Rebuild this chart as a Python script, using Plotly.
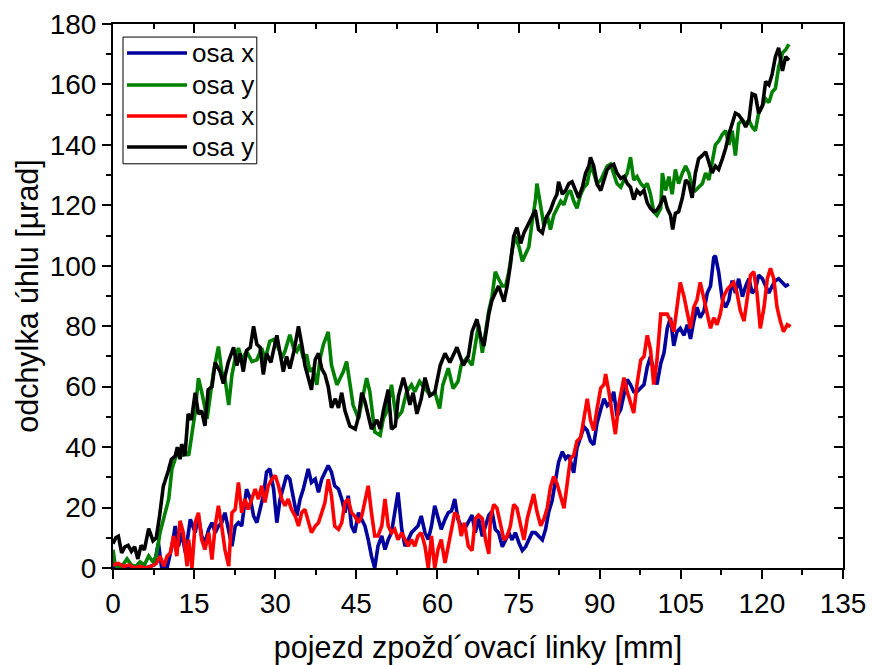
import plotly.graph_objects as go

# (pojezd [mm], odchylka [µrad]) pairs for each measured series
osa_x_a = [(0,0),(1,0.5),(2,0),(3,0.5),(4,0),(5,0.5),(6,0),(7,0.5),(7.6,1),(8.4,8.3),(9,0),(10,0),(10.9,7.2),(11.5,13.9),(12.1,7.2),(12.7,11.7),(13.4,5),(14.3,16.1),(15.2,11.7),(15.8,17.2),(16.4,10.6),(17,8.3),(17.7,12.8),(18.3,15),(18.9,11.7),(19.5,13.9),(20.1,15),(20.7,18.3),(21.4,11.7),(22,7.2),(22.6,13.9),(23.2,15),(23.8,13.9),(24.7,26.1),(25.4,22.8),(26,17.2),(26.6,15),(27.2,19.4),(27.8,23.9),(28.4,31.7),(29,32.8),(29.7,26.1),(30.3,15),(30.9,22.8),(31.5,27.2),(32.1,30.6),(32.7,29.4),(33.4,22.8),(34,17.2),(34.6,22.8),(35.2,26.1),(36.1,32.8),(36.7,28.3),(37.4,29.4),(38,25),(38.6,29.4),(39.2,31.7),(39.8,33.9),(40.4,31.7),(41,27.2),(41.7,26.1),(42.3,22.8),(42.9,18.3),(43.5,23.9),(44.1,13.9),(44.7,11.7),(45.4,18.3),(46,16.1),(46.6,13.9),(47.2,9.4),(47.8,3.9),(48.4,0),(49,7.2),(49.7,10.6),(50.3,6.1),(50.9,9.4),(51.5,11.7),(52.1,18.3),(52.7,25),(53.4,12.8),(54,7.2),(54.6,9.4),(55.2,11.7),(55.8,12.8),(56.4,13.9),(57,17.2),(57.7,11.7),(58.3,9.4),(58.9,13.9),(59.5,20.6),(60.1,16.1),(60.7,12.8),(61.4,16.1),(62,18.3),(62.6,18.9),(63.2,22.8),(63.8,16.1),(64.4,13.9),(65,12.8),(65.7,15),
           (66.4,17.5),(67,11.7),(67.6,16.3),(68.3,10.5),(68.9,14),(69.5,17.5),(70.1,18.7),(70.7,12.8),(71.3,11.7),(72,7),(72.6,9.3),(73.2,11.7),(73.8,9.3),(74.4,11.7),(75.1,8.2),(75.7,5.8),(76.3,7),(76.9,9.3),(77.5,11.7),(78.1,11.7),(78.7,10.5),(79.4,9.3),(80,12.8),(80.6,18.7),(81.2,22.2),(81.8,29.2),(82.4,35),(83.1,38.5),(83.7,36.2),(84.3,37.3),(84.9,33.8),(85.2,31.5),(85.8,39.7),(86.5,43.2),(87.1,46.7),(87.7,45.5),(88.3,42),(88.9,40.8),(89.5,47.8),(90.2,52.5),(90.8,56),(91.4,53.7),(92,54.8),(92.6,58.3),(93.2,50.2),(93.9,52.5),(94.5,57.2),(95.1,62.4),(95.7,60.7),(96.3,58.3),(96.9,58.3),(97.6,59.5),(98.2,60.7),(98.8,66.5),(99.4,70),(100,65.3),(100.6,60.7),(101.3,67.7),(101.9,71.2),(102.5,79.3),(103.1,82.8),(103.7,73.5),(104.3,78.2),(104.9,79.3),(105.6,77),(106.2,80.5),(106.8,75.8),(107.4,81.7),(108,86.3),(108.6,82.8),(109.3,85.2),(109.9,91),(110.5,93.3),(111.1,102.7),(111.4,103.3),(112,98),(112.7,88.7),(113.3,86.3),(113.9,88.7),(114.5,95.1),(115.1,91),(115.7,95.7),(116.4,89.8),(117,93.3),(117.6,95.7),(118.2,91),(118.8,92.2),(119.4,96.9),(120.1,95.7),(120.7,93.3),(121.3,91),(121.9,93.3),(122.5,95.1),(123.1,95.7),(123.8,94.5),(124.4,93.3),(125,93.9)]

osa_y_a = [(0,6),(0.4,1),(1,0),(1.8,1),(2.6,3),(3.4,1),(4.2,0.5),(5,2),(5.8,1),(6.6,4),(7.4,2),(8,4),(8.7,11.7),(9.7,19.4),(10.3,22.8),(10.9,32.8),(11.5,36.1),(12.1,39.4),(12.7,37.2),(13.4,38.3),(14,37.2),(14.6,45),(15.2,51.7),(15.8,62.8),(16.4,58.3),(17.4,49.4),(18,58.3),(18.6,65),(19.5,73.3),(20.1,65),(20.7,62.8),(21.4,53.9),(22,63.9),(22.6,69.4),(23.2,72.8),(23.8,68.9),(24.7,71.7),(25.7,68.3),(26.6,68.9),(27.5,72.8),(28.1,68.9),(29,75),(29.7,75.6),(30.6,72.8),(31.2,69.4),(31.8,71.7),(32.7,77.2),(33.4,72.8),(34,71.7),(34.6,73.9),(35.2,69.4),(35.8,70.6),(36.4,65),(37,66.1),(37.7,60.6),(38.3,69.4),(38.9,73.9),(39.8,78.1),(40.4,67.2),(41.4,60.6),(42,62.8),(42.6,65),(43.2,68.3),(43.8,60.6),(44.4,53.9),(45.4,49.4),(46.3,58.3),(46.9,62.8),(47.5,58.3),(48.4,45),(49.4,43.9),(50,49.4),(50.6,51.7),(51.5,60.6),(52.4,49.4),(53.4,51.7),(54.3,58.3),(55.2,60.6),(55.8,58.3),(56.7,61.7),(57.7,59.4),(58.6,57.2),(59.5,58.3),(60.4,52.8),(61,60.6),(62,66.1),(62.9,59.4),(63.8,61.7),(64.4,67.2),(65.4,69.4),
           (66.4,67.1),(67,73.5),(67.6,80.5),(68.3,71.2),(68.9,78.2),(69.5,85.2),(70.1,89.8),(70.7,98),(71.3,95.7),(72,93.3),(72.6,93.3),(73.2,98),(73.8,105),(74.4,109.7),(75.1,106.2),(75.7,101.5),(76.3,103.9),(76.9,106.2),(77.5,114.4),(78.1,121.4),(78.4,127.2),(79.1,119),(79.7,113.2),(80.3,116.7),(80.9,112),(81.5,116.7),(82.1,119),(82.8,121.4),(83.4,120.2),(84,123.7),(84.6,124.9),(85.2,121.4),(85.8,119),(86.5,123.7),(87.1,126),(87.7,127.2),(88.3,133),(88.9,130.7),(89.5,127.2),(90.2,128.4),(90.8,130.7),(91.4,133),(92,133.6),(92.6,130.7),(93.2,127.2),(93.9,126),(94.5,128.4),(95.1,130.7),(95.7,135.9),(96.3,128.4),(96.9,129.5),(97.6,127.2),(98.2,126),(98.8,127.2),(99.4,123.7),(100,117.9),(100.6,116.7),(101.3,119),(101.6,130.7),(102.2,124.9),(102.8,129.5),(103.4,123.7),(104,131.9),(104.6,127.2),(105.3,130.7),(105.9,133),(106.5,130.7),(107.1,126),(107.7,124.9),(108.3,126),(109,127.2),(109.6,130.7),(110.2,128.4),(110.8,134.2),(111.4,140),(112,141.2),(112.7,143.5),(113.3,144.7),(113.9,140),(114.5,144.7),(115.1,136.5),(115.7,147),(116.4,148.2),(117,147),(117.6,148.2),(118.2,145.9),(118.8,144.7),(119.4,150.5),(120.1,152.9),(120.7,155.2),(121.3,154),(121.9,157.5),(122.5,158.7),(123.1,165.7),(123.8,170.4),(124.4,171.5),(125,173.3)]

osa_x_b = [(0,1),(1,1.5),(2,0.5),(3,1),(4,0),(5,0.5),(6,0),(7,0.5),(8,1.5),(8.7,3.9),(9.4,0.6),(10,3.9),(10.6,5),(11.2,10.6),(11.8,3.9),(12.4,15.6),(13,11.7),(13.7,0.6),(14,9.4),(14.6,0),(15.2,15),(15.8,18.3),(16.4,9.4),(17,6.1),(17.7,11.7),(18.3,2.8),(18.9,13.9),(19.5,20.6),(20.1,13.9),(20.7,6.1),(21.4,0.6),(22,18.3),(22.6,19.4),(23.2,28.3),(23.8,18.3),(24.4,22.8),(25,19.4),(25.7,22.8),(26.3,26.1),(26.9,22.8),(27.5,27.2),(28.1,21.7),(28.7,27.2),(29.4,29.4),(30,30.6),(30.6,27.2),(31.2,22.8),(31.8,20.6),(32.4,22.8),(33,19.4),(33.7,17.2),(34.3,13.9),(34.9,18.3),(35.5,19.4),(36.1,15),(36.7,11.7),(37.4,13.9),(38,15),(38.6,18.3),(39.2,21.7),(39.8,29.4),(40.4,23.9),(41,13.9),(41.7,12.8),(42.3,15),(42.9,21.7),(43.5,22.8),(44.1,18.3),(44.7,17.2),(45.4,15),(46,17.2),(46.6,21.7),(47.2,27.2),(47.8,18.3),(48.4,10.6),(49,10.6),(49.7,13.9),(50.3,22.8),(50.9,13.9),(51.5,11.7),(52.1,12.8),(52.7,9.4),(53.4,11.7),(54,9.4),(54.6,7.2),(55.2,9.4),(55.8,7.2),(56.4,10.6),(57,11.7),(57.7,7.2),(58.3,0),(58.9,10.6),(59.5,0),(60.1,6.1),(60.7,9.4),(61.4,1.7),(62,7.2),(62.6,12.8),(63.2,18.3),(63.8,17.2),(64.4,10.6),(65,15),(65.7,7.2),
           (66.4,5.8),(67,16.3),(67.6,17.5),(68.3,16.3),(68.9,9.3),(69.5,4.7),(69.8,16.3),(70.4,21),(71,19.8),(71.7,14),(72.3,9.3),(72.9,10.5),(73.5,14),(74.1,21),(74.7,19.8),(75.4,14),(76,9.3),(76.6,16.3),(77.2,21),(77.8,24.5),(78.4,18.7),(79.1,14),(79.7,16.3),(80.3,19.8),(80.9,26.8),(81.5,30.3),(82.1,28),(82.8,23.3),(83.4,19.8),(84,28),(84.6,36.2),(85.2,37.3),(85.8,42),(86.5,43.2),(87.1,50.2),(87.7,56),(88.3,49),(88.9,45.5),(89.5,52.5),(90.2,59.5),(90.8,60.7),(91.1,64.2),(91.7,58.3),(92.3,50.2),(92.9,44.3),(93.5,53.7),(94.2,60.7),(94.5,63),(95.1,58.3),(95.7,54.8),(96.3,51.3),(96.9,60.7),(97.6,68.8),(98.2,70),(98.8,77),(99.4,72.3),(100,60.7),(100.6,68.8),(101.3,84),(101.9,84),(102.5,84),(103.1,81.7),(103.7,78.2),(104.3,86.3),(104.9,94.5),(105.6,89.8),(106.2,84),(106.8,79.3),(107.4,86.3),(108,88.7),(108.6,94.5),(109.3,88.7),(109.9,84),(110.5,79.3),(111.1,82.8),(111.7,80.5),(112.3,84),(112.9,89.8),(113.6,92.2),(114.2,93.3),(114.8,94.5),(115.4,91),(116,85.2),(116.7,81.7),(117.3,89.1),(117.9,96.9),(118.5,98),(119.1,91),(119.7,79.3),(120.4,86.3),(121,95.7),(121.6,99.2),(122.2,95.7),(122.8,86.3),(123.4,81.7),(124,78.2),(124.7,80.5),(125.3,79.9)]

osa_y_b = [(0,8),(0.5,10),(1,10.5),(1.6,5),(2.2,7),(2.8,7.5),(3.4,5.5),(4,7),(4.6,3),(5.2,7.5),(5.8,6),(6.6,13),(7.4,9),(8,10),(8.6,17),(9.3,27),(10.2,32),(10.8,36),(11.5,37),(11.9,40),(12.4,36),(12.7,41),(13.3,37),(13.9,51),(14.5,49),(15.2,58),(15.8,51),(16.4,52),(17,47),(17.6,59),(18.3,60),(18.9,68),(19.8,65),(20.4,61),(21.3,68),(22.3,73),(22.9,67),(23.5,71),(24.1,65),(24.7,72),(25.4,73),(26,80),(26.6,74),(27.2,73),(27.8,64),(28.4,71),(29.2,68),(30.3,77),(31,70),(31.5,65),(32.1,70),(32.7,66),(33.5,72),(34.3,80),(35,73),(35.5,67),(36.1,63),(36.7,59),(37.4,69),(38,71),(38.6,66),(39.2,64),(39.8,60),(40.4,53),(41.1,56),(41.7,53),(42.3,58),(42.9,52),(43.8,47),(44.8,46),(45.4,50),(46,58),(46.6,55),(47.2,51),(47.8,46),(48.8,49),(49.4,46),(50,52),(50.9,59),(51.5,46),(52.2,47),(52.8,57),(53.7,63),(54.3,59),(54.9,54),(55.5,58),(56.2,51),(57,56),(57.7,63),(58.6,57),(59.5,58),(60.5,67),(61.4,71),(62.3,68),(63,71),(63.6,73),(64.2,70),(64.8,67),(65.7,70),
           (66.4,78.2),(67.3,82.3),(68,76.4),(68.6,73.5),(69.5,84),(70.1,88.7),(70.7,91),(71.3,93.3),(72.3,88.1),(72.9,93.3),(73.5,100.4),(74.1,109.7),(74.7,112.6),(75.4,107.4),(76,110.9),(76.9,114.4),(77.5,116.7),(78.1,118.4),(78.7,112),(79.4,110.9),(80,115.5),(80.9,118.4),(81.5,121.4),(82.1,123.7),(82.4,127.8),(83.1,123.7),(83.7,124.9),(84.3,127.2),(84.9,127.8),(85.5,124.9),(86.1,122.5),(86.8,126),(87.4,130.7),(88,133),(88.3,135.9),(88.9,133),(89.5,127.2),(90.2,124.9),(90.8,128.9),(91.4,131.9),(92,133),(92.6,133.6),(93.2,130.7),(93.9,128.9),(94.5,129.5),(95.1,127.2),(95.7,126),(96.3,121.9),(96.9,124.9),(97.5,123.7),(98.2,124.9),(98.8,120.8),(99.4,119),(100,117.9),(100.6,118.4),(101.2,120.2),(101.9,123.1),(102.5,119),(103.1,116.7),(103.5,112),(104,117.3),(104.6,117.9),(105.3,122.5),(105.9,128.4),(106.5,127.2),(107.1,122.5),(107.7,130.7),(108.3,135.4),(109,136.5),(109.6,137.7),(110.2,134.2),(110.8,130.7),(111.4,133),(112,131.9),(112.7,135.4),(113.3,138.9),(113.9,143.5),(114.5,147),(115.1,150.5),(115.7,149.9),(116.4,148.2),(117,145.9),(117.6,148.2),(118.2,156.9),(118.8,156.4),(119.4,150.5),(120.1,152.9),(120.7,161),(121.3,159.9),(121.9,163.4),(122.5,169.2),(123.1,172.1),(123.8,164.5),(124.4,169.2),(125,168)]

series_names = ["osa x", "osa y", "osa x", "osa y"]
series_data = [osa_x_a, osa_y_a, osa_x_b, osa_y_b]
series_colors = ["#00009C", "#008000", "#FF0000", "#000000"]

x_ticks = [0, 15, 30, 45, 60, 75, 90, 105, 120, 135]
y_ticks = [0, 20, 40, 60, 80, 100, 120, 140, 160, 180]

FONT = "Liberation Sans, Arial, sans-serif"

fig = go.Figure()
for name, data, color in zip(series_names, series_data, series_colors):
    xs = [p[0] for p in data]
    ys = [p[1] for p in data]
    fig.add_trace(go.Scatter(x=xs, y=ys, mode="lines", name=name,
                             line=dict(color=color, width=3.6),
                             showlegend=False))

# carrier trace for the mirrored top/right frame axes
fig.add_trace(go.Scatter(x=[None], y=[None], xaxis="x2", yaxis="y2",
                         showlegend=False, hoverinfo="skip"))

tick_font = dict(family=FONT, size=28, color="black")
common = dict(showline=True, linewidth=2, linecolor="black", showgrid=False,
              zeroline=False, tickwidth=2, tickcolor="black", ticklen=9,
              automargin=False)

fig.update_layout(
    width=872, height=665,
    margin=dict(l=113, r=29, t=24, b=97),
    paper_bgcolor="white", plot_bgcolor="white",
    font=dict(family=FONT, color="black"),
    xaxis=dict(range=[0, 135], tickmode="array", tickvals=x_ticks,
               ticktext=[str(v) for v in x_ticks], ticks="outside",
               tickfont=tick_font,
               minor=dict(ticks="outside", ticklen=5, tickwidth=2,
                          tickcolor="black", dtick=7.5, tick0=0, showgrid=False),
               title=dict(text="pojezd zpožd´ovací linky [mm]",
                          font=dict(family=FONT, size=30.5), standoff=21),
               **common),
    yaxis=dict(range=[0, 180], tickmode="array", tickvals=y_ticks,
               ticktext=[str(v) for v in y_ticks], ticks="outside",
               tickfont=tick_font,
               minor=dict(ticks="outside", ticklen=5, tickwidth=2,
                          tickcolor="black", dtick=10, tick0=0, showgrid=False),
               title=dict(text="odchylka úhlu [µrad]",
                          font=dict(family=FONT, size=30.5), standoff=2),
               **common),
    xaxis2=dict(overlaying="x", side="top", matches="x", range=[0, 135],
                tickmode="array", tickvals=x_ticks, ticks="inside",
                showticklabels=False,
                minor=dict(ticks="inside", ticklen=5, tickwidth=2,
                           tickcolor="black", dtick=7.5, tick0=0, showgrid=False),
                **common),
    yaxis2=dict(overlaying="y", side="right", matches="y", range=[0, 180],
                tickmode="array", tickvals=y_ticks, ticks="inside",
                showticklabels=False,
                minor=dict(ticks="inside", ticklen=5, tickwidth=2,
                           tickcolor="black", dtick=10, tick0=0, showgrid=False),
                **common),
)

# legend box drawn in plot-area fractions
box = dict(x0=0.0137, x1=0.197, y0=0.743, y1=0.976)
fig.add_shape(type="rect", xref="paper", yref="paper", **box,
              line=dict(color="black", width=1), fillcolor="white", layer="above")
row_y = [0.9467, 0.888, 0.831, 0.774]
for name, color, yy in zip(series_names, series_colors, row_y):
    fig.add_shape(type="line", xref="paper", yref="paper",
                  x0=0.0192, x1=0.1014, y0=yy, y1=yy,
                  line=dict(color=color, width=3.6), layer="above")
    fig.add_annotation(xref="paper", yref="paper", x=0.106, y=yy,
                       text=name, showarrow=False, xanchor="left",
                       yanchor="middle", font=dict(family=FONT, size=26, color="black"))

fig.write_html("out.html")
